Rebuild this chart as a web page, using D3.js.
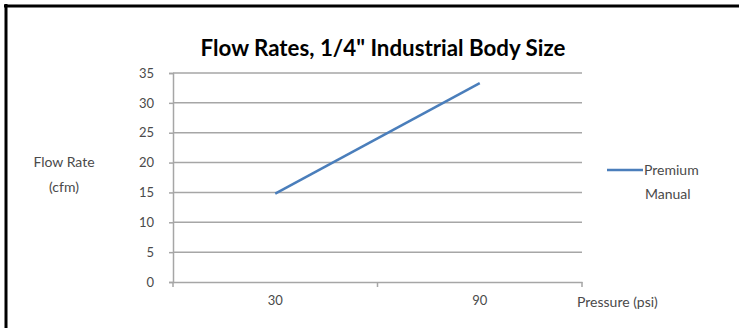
<!DOCTYPE html>
<html><head><meta charset="utf-8">
<script src="https://cdn.jsdelivr.net/npm/d3@7"></script>
<style>html,body{margin:0;padding:0;background:#fff;}svg{display:block;}</style>
</head><body>
<svg id="c" width="739" height="328"></svg>
<script>
const categories = ["30", "90"];
const seriesName = "Premium Manual";
const values = [14.8, 33.3];
const yTicks = [0, 5, 10, 15, 20, 25, 30, 35];

const svg = d3.select("#c");
const font = "Lato, 'Open Sans', sans-serif";
const txt = "#4a4a4a";
const pL = 173, pR = 582, pT = 73, pB = 282;

// frame: top and left borders only
svg.append("line").attr("x1",4).attr("x2",739).attr("y1",6).attr("y2",6).attr("stroke","#000").attr("stroke-width",3);
svg.append("line").attr("x1",6).attr("x2",6).attr("y1",4).attr("y2",328).attr("stroke","#000").attr("stroke-width",3);

const x = d3.scaleBand().domain(categories).range([pL, pR]);
const y = d3.scaleLinear().domain([0, 35]).range([pB, pT]);

// gridlines
svg.append("g").selectAll("line").data(yTicks.filter(d=>d>0)).join("line")
  .attr("x1", pL).attr("x2", pR).attr("y1", d=>y(d)).attr("y2", d=>y(d))
  .attr("stroke", "#a6a6a6").attr("stroke-width", 1.5);

// y axis
const ya = svg.append("g").attr("transform", `translate(${pL},0)`)
  .call(d3.axisLeft(y).tickValues(yTicks).tickSize(4).tickPadding(15));
ya.select(".domain").attr("stroke", "#a6a6a6").attr("stroke-width", 1.5);
ya.selectAll(".tick line").attr("stroke", "#a6a6a6").attr("stroke-width", 1.5);
ya.selectAll("text").attr("font-family", font).attr("font-size", 13).attr("fill", txt);

// x axis
const xa = svg.append("g").attr("transform", `translate(0,${pB})`)
  .call(d3.axisBottom(x).tickSize(0).tickPadding(14));
xa.select(".domain").attr("stroke", "#a6a6a6").attr("stroke-width", 1.5);
xa.selectAll("text").attr("font-family", font).attr("font-size", 13).attr("fill", txt);
// category boundary tick marks
const bounds = [pL, ...categories.slice(1).map(c=>x(c)), pR];
xa.selectAll(".bt").data(bounds).join("line").attr("class","bt")
  .attr("x1", d=>d).attr("x2", d=>d).attr("y1", 0).attr("y2", 5)
  .attr("stroke", "#a6a6a6").attr("stroke-width", 1.5);

// series line
const line = d3.line().x((d,i)=>x(categories[i]) + x.bandwidth()/2).y(d=>y(d));
svg.append("path").datum(values).attr("d", line)
  .attr("fill","none").attr("stroke","#4a7ebb").attr("stroke-width",2.5);

// title (sized to span ~365px)
const title = svg.append("text").attr("x", 383).attr("y", 56).attr("text-anchor","middle")
  .attr("font-family", font).attr("font-weight","bold").attr("font-size", 20).attr("fill","#000")
  .text("Flow Rates, 1/4\" Industrial Body Size");
const tw = title.node().getComputedTextLength();
title.attr("font-size", 20 * 365 / tw);

// y axis title
const yt = svg.append("text").attr("text-anchor","middle").attr("font-family",font)
  .attr("font-size",14).attr("fill",txt);
yt.append("tspan").attr("x",64).attr("y",167).text("Flow Rate");
yt.append("tspan").attr("x",64).attr("y",192).text("(cfm)");

// x axis title
svg.append("text").attr("x",577).attr("y",307).attr("font-family",font)
  .attr("font-size",14).attr("fill",txt).text("Pressure (psi)");

// legend
svg.append("line").attr("x1",607).attr("x2",643).attr("y1",170).attr("y2",170)
  .attr("stroke","#4a7ebb").attr("stroke-width",2.5);
const words = seriesName.split(" ");
const lg = svg.append("text").attr("font-family",font).attr("font-size",14).attr("fill",txt);
lg.append("tspan").attr("x",644).attr("y",175).text(words[0]);
lg.append("tspan").attr("x",645).attr("y",199).text(words[1]);
</script>
</body></html>
